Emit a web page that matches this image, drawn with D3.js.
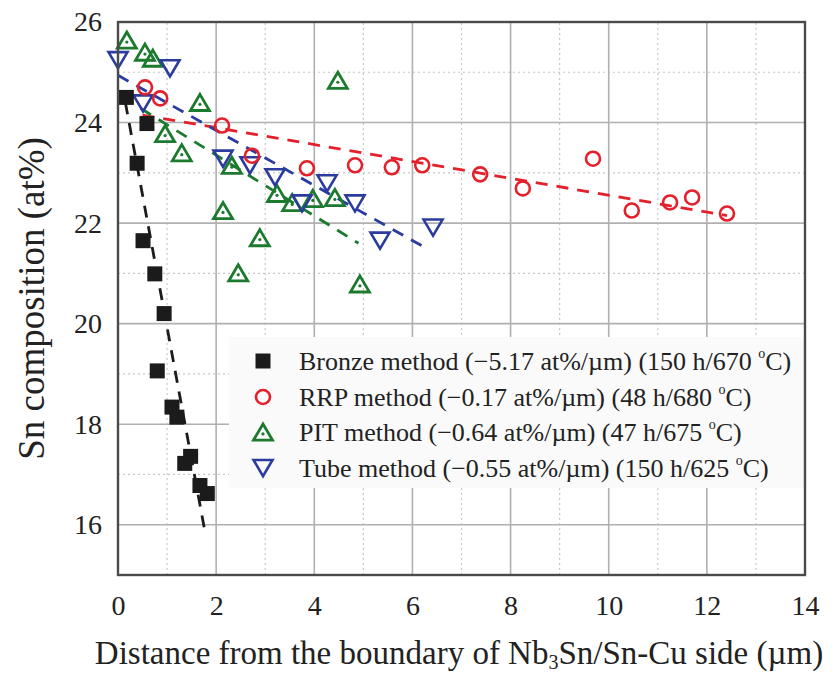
<!DOCTYPE html>
<html><head><meta charset="utf-8">
<script src="https://cdn.jsdelivr.net/npm/d3@7/dist/d3.min.js"></script>
<style>html,body{margin:0;padding:0;background:#fff;}svg{display:block;}svg text{font-family:"Liberation Serif","DejaVu Serif",serif;}</style>
</head><body>
<svg id="chart" width="837" height="673"></svg>
<script>
// ---- data ----
const bronzeX = [0.17, 0.59, 0.39, 0.51, 0.75, 0.94, 0.80, 1.10, 1.20, 1.36, 1.48, 1.67, 1.82];
const bronzeY = [24.50, 23.98, 23.19, 21.65, 20.99, 20.20, 19.06, 18.34, 18.14, 17.22, 17.36, 16.78, 16.62];
const rrpX = [0.55, 0.86, 2.12, 2.73, 3.85, 4.83, 5.58, 6.20, 7.38, 8.25, 9.68, 10.47, 11.25, 11.70, 12.41];
const rrpY = [24.70, 24.48, 23.94, 23.34, 23.09, 23.15, 23.11, 23.15, 22.97, 22.69, 23.28, 22.25, 22.41, 22.51, 22.19];
const pitX = [0.18, 0.55, 0.71, 1.67, 0.96, 1.30, 4.48, 2.32, 3.24, 3.55, 3.97, 4.42, 2.14, 2.89, 2.45, 4.93];
const pitY = [25.64, 25.40, 25.28, 24.40, 23.78, 23.40, 24.84, 23.15, 22.59, 22.41, 22.49, 22.51, 22.25, 21.71, 21.01, 20.79];
const tubeX = [0.0, 1.06, 0.51, 2.14, 2.69, 3.20, 3.75, 4.26, 4.83, 5.34, 6.42];
const tubeY = [25.24, 25.08, 24.38, 23.28, 23.15, 22.91, 22.39, 22.79, 22.39, 21.65, 21.91];
// fitted lines (endpoints)
const bronzeFit = [[0.15, 24.40], [1.78, 15.82]];
const rrpFit = [[0.50, 24.15], [12.41, 22.15]];
const pitFit = [[0.10, 24.50], [4.90, 21.60]];
const tubeFit = [[0.00, 24.94], [6.30, 21.49]];
const legendLabels = [
  ["Bronze method (\u22125.17 at%/\u00b5m) (150 h/670 ", "C)"],
  ["RRP method (\u22120.17 at%/\u00b5m) (48 h/680 ", "C)"],
  ["PIT method (\u22120.64 at%/\u00b5m) (47 h/675 ", "C)"],
  ["Tube method (\u22120.55 at%/\u00b5m) (150 h/625 ", "C)"]
];
const xTicks = [0, 2, 4, 6, 8, 10, 12, 14];
const yTicks = [16, 18, 20, 22, 24, 26];

// ---- chart ----
const svg = d3.select("#chart");
const x = d3.scaleLinear().domain([0, 14]).range([118, 805]);
const y = d3.scaleLinear().domain([15, 26]).range([575, 22]);
const colors = {bronze: "#1b1b1b", rrp: "#e3202b", pit: "#1c7a2e", tube: "#2b3c9e"};

// grid
const g = svg.append("g");
d3.range(1, 14, 2).forEach(v => g.append("line").attr("x1", x(v)).attr("x2", x(v)).attr("y1", y(15)).attr("y2", y(26))
  .attr("stroke", "#c8c8c8").attr("stroke-width", 1.2).attr("stroke-dasharray", "2,3"));
d3.range(15, 26, 2).forEach(v => g.append("line").attr("y1", y(v)).attr("y2", y(v)).attr("x1", x(0)).attr("x2", x(14))
  .attr("stroke", "#c8c8c8").attr("stroke-width", 1.2).attr("stroke-dasharray", "2,3"));
d3.range(2, 14, 2).forEach(v => g.append("line").attr("x1", x(v)).attr("x2", x(v)).attr("y1", y(15)).attr("y2", y(26))
  .attr("stroke", "#b0b0b0").attr("stroke-width", 1.6));
d3.range(16, 26, 2).forEach(v => g.append("line").attr("y1", y(v)).attr("y2", y(v)).attr("x1", x(0)).attr("x2", x(14))
  .attr("stroke", "#b0b0b0").attr("stroke-width", 1.6));

// legend background
svg.append("rect").attr("x", 229).attr("y", 337).attr("width", x(14) - 229).attr("height", 151).attr("fill", "#fafafa");

// fit lines
const line = d3.line().x(d => x(d[0])).y(d => y(d[1]));
[[bronzeFit, colors.bronze], [rrpFit, colors.rrp], [pitFit, colors.pit], [tubeFit, colors.tube]].forEach(([d, c]) => {
  svg.append("path").datum(d).attr("d", line).attr("fill", "none").attr("stroke", c)
    .attr("stroke-width", 2.8).attr("stroke-dasharray", "12,9");
});

// marker drawers
function square(sel, cx, cy, s) {
  sel.append("rect").attr("x", cx - s / 2).attr("y", cy - s / 2).attr("width", s).attr("height", s).attr("fill", colors.bronze);
}
function circle(sel, cx, cy, r) {
  sel.append("circle").attr("cx", cx).attr("cy", cy).attr("r", r).attr("fill", "none").attr("stroke", colors.rrp).attr("stroke-width", 2.6);
}
function upTri(sel, cx, cy, w) {
  const h = w * 0.85;
  sel.append("path").attr("d", `M${cx},${cy - h / 2}L${cx + w / 2},${cy + h / 2}L${cx - w / 2},${cy + h / 2}Z`)
    .attr("fill", "none").attr("stroke", colors.pit).attr("stroke-width", 2.8).attr("stroke-linejoin", "miter");
  sel.append("circle").attr("cx", cx).attr("cy", cy + h * 0.12).attr("r", 1.6).attr("fill", colors.pit);
}
function downTri(sel, cx, cy, w) {
  const h = w * 0.85;
  sel.append("path").attr("d", `M${cx - w / 2},${cy - h / 2}L${cx + w / 2},${cy - h / 2}L${cx},${cy + h / 2}Z`)
    .attr("fill", "none").attr("stroke", colors.tube).attr("stroke-width", 2.6).attr("stroke-linejoin", "miter");
}

const m = svg.append("g");
pitX.forEach((v, i) => upTri(m, x(v), y(pitY[i]), 19));
tubeX.forEach((v, i) => downTri(m, x(v), y(tubeY[i]), 19));
rrpX.forEach((v, i) => circle(m, x(rrpX[i]), y(rrpY[i]), 7));
bronzeX.forEach((v, i) => square(m, x(v), y(bronzeY[i]), 15));

// frame
svg.append("rect").attr("x", x(0)).attr("y", y(26)).attr("width", x(14) - x(0)).attr("height", y(15) - y(26))
  .attr("fill", "none").attr("stroke", "#4a4a4a").attr("stroke-width", 2.4);

// axes labels
const xAxis = d3.axisBottom(x).tickValues(xTicks).tickSize(0).tickPadding(20).tickFormat(d3.format("d"));
const xa = svg.append("g").attr("transform", `translate(0,${y(15)})`).call(xAxis);
xa.select(".domain").remove();
xa.attr("font-family", null);
xa.selectAll("text").attr("font-size", 28).attr("fill", "#222");

const yAxis = d3.axisLeft(y).tickValues(yTicks).tickSize(0).tickPadding(16).tickFormat(d3.format("d"));
const ya = svg.append("g").attr("transform", `translate(${x(0)},0)`).call(yAxis);
ya.select(".domain").remove();
ya.attr("font-family", null);
ya.selectAll("text").attr("font-size", 28).attr("fill", "#222");

// axis titles
const xt = svg.append("text").attr("x", 459).attr("y", 664).attr("text-anchor", "middle")
  .attr("font-size", 33).attr("fill", "#222");
xt.append("tspan").text("Distance from the boundary of Nb");
xt.append("tspan").text("3").attr("font-size", 20).attr("dy", 5);
xt.append("tspan").text("Sn/Sn-Cu side (\u00b5m)").attr("dy", -5);

svg.append("text").attr("transform", `translate(44,${(y(15) + y(26)) / 2}) rotate(-90)`).attr("text-anchor", "middle")
  .attr("font-size", 37).attr("fill", "#222").text("Sn composition (at%)");

// legend
const rowsY = [361, 397, 432, 468];
const lg = svg.append("g");
square(lg, 263, rowsY[0], 15);
circle(lg, 263, rowsY[1], 7);
upTri(lg, 263, rowsY[2], 19);
downTri(lg, 263, rowsY[3], 19);
legendLabels.forEach((lab, i) => {
  const t = lg.append("text").attr("x", 299).attr("y", rowsY[i] + 9)
    .attr("font-size", 26).attr("fill", "#222");
  t.append("tspan").text(lab[0]);
  t.append("tspan").text("o").attr("font-size", 14).attr("dy", -12);
  t.append("tspan").text(lab[1]).attr("dy", 12);
});
</script>
</body></html>
